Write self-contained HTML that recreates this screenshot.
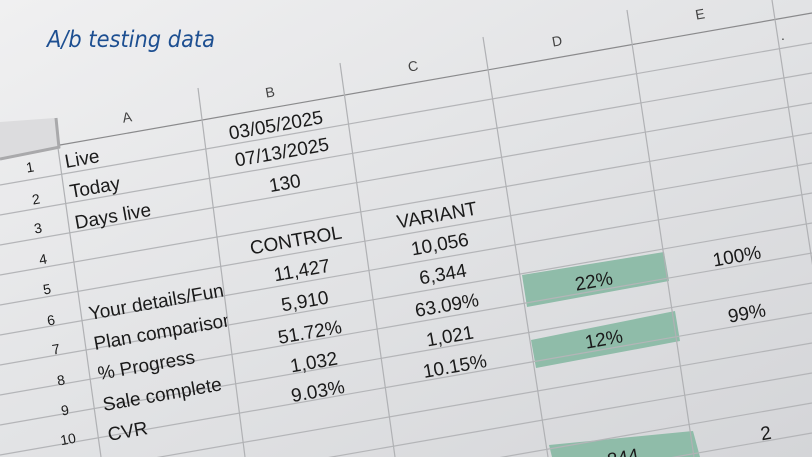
<!DOCTYPE html>
<html><head><meta charset="utf-8"><style>
html,body{margin:0;padding:0;}
body{width:812px;height:457px;overflow:hidden;}
svg{display:block;overflow:hidden;}
text{font-family:"Liberation Sans",sans-serif;fill:#1a1a1a;}
</style></head><body>
<svg width="812" height="457" viewBox="0 0 812 457" xmlns="http://www.w3.org/2000/svg">
<defs>
<linearGradient id="bg" x1="0" y1="0" x2="1" y2="1">
<stop offset="0" stop-color="#f0f0f1"/><stop offset="0.5" stop-color="#e2e3e5"/><stop offset="1" stop-color="#d4d5d8"/>
</linearGradient>
<clipPath id="ca"><polygon points="58,118 198,88 245,457 100,457"/></clipPath>
<clipPath id="frame"><rect width="812" height="457"/></clipPath>
</defs>
<g clip-path="url(#frame)">
<rect width="812" height="457" fill="url(#bg)"/>
<polygon points="0,122 55,118 58,148 0,160" fill="#dcdcde"/>
<line x1="0" y1="159" x2="60" y2="147" stroke="#a9a9ab" stroke-width="3"/>
<line x1="56" y1="118" x2="59" y2="148" stroke="#a9a9ab" stroke-width="3"/>
<polygon points="522,275 664,252 669,281 527,307" fill="#8fbca9"/>
<polygon points="531,340 675,311 680,341 536,368" fill="#8fbca9"/>
<polygon points="549,445 693,431 700,457 552,457" fill="#8fbca9"/>
<g stroke="#b4b5b8" stroke-width="1.2">
<line x1="60" y1="145" x2="812" y2="13" stroke="#8a8a8c"/>
<line x1="0" y1="185" x2="812" y2="43"/>
<line x1="0" y1="215" x2="812" y2="73"/>
<line x1="0" y1="245" x2="812" y2="103"/>
<line x1="0" y1="275" x2="812" y2="133"/>
<line x1="0" y1="305" x2="812" y2="163"/>
<line x1="0" y1="335" x2="812" y2="193"/>
<line x1="0" y1="365" x2="812" y2="223"/>
<line x1="0" y1="395" x2="812" y2="253"/>
<line x1="0" y1="425" x2="812" y2="283"/>
<line x1="0" y1="455" x2="812" y2="313"/>
<line x1="0" y1="485" x2="812" y2="343"/>
<line x1="0" y1="515" x2="812" y2="373"/>
<line x1="0" y1="545" x2="812" y2="403"/>
<line x1="0" y1="575" x2="812" y2="433"/>
</g>
<g stroke="#b0b1b4" stroke-width="1.2">
<line x1="58" y1="148" x2="101" y2="457"/>
<line x1="198" y1="88" x2="245" y2="457"/>
<line x1="340" y1="63" x2="395" y2="457"/>
<line x1="483" y1="37" x2="548" y2="457"/>
<line x1="627" y1="10" x2="694" y2="457"/>
<line x1="772" y1="0" x2="842" y2="457"/>
</g>
<text x="47" y="47" font-size="23" font-style="italic" style="font-family:'DejaVu Sans',sans-serif;fill:#1d4f91" textLength="168" lengthAdjust="spacingAndGlyphs">A/b testing data</text>
<g font-size="14" text-anchor="middle" dominant-baseline="central">
<text x="127" y="117" transform="rotate(-10 127 117)" style="fill:#444">A</text>
<text x="270" y="92" transform="rotate(-10 270 92)" style="fill:#444">B</text>
<text x="413" y="66" transform="rotate(-10 413 66)" style="fill:#444">C</text>
<text x="557" y="41" transform="rotate(-10 557 41)" style="fill:#444">D</text>
<text x="700" y="14" transform="rotate(-10 700 14)" style="fill:#444">E</text>
<text x="783" y="35" style="fill:#444">.</text>
</g>
<g font-size="14" text-anchor="middle" dominant-baseline="central">
<text x="30" y="167" transform="rotate(-10 30 167)">1</text>
<text x="36" y="199" transform="rotate(-10 36 199)">2</text>
<text x="38" y="228" transform="rotate(-10 38 228)">3</text>
<text x="43" y="259" transform="rotate(-10 43 259)">4</text>
<text x="47" y="289" transform="rotate(-10 47 289)">5</text>
<text x="51" y="320" transform="rotate(-10 51 320)">6</text>
<text x="56" y="349" transform="rotate(-10 56 349)">7</text>
<text x="61" y="380" transform="rotate(-10 61 380)">8</text>
<text x="65" y="410" transform="rotate(-10 65 410)">9</text>
<text x="68" y="439" transform="rotate(-10 68 439)">10</text>
</g>
<g font-size="19" clip-path="url(#ca)">
<text x="66" y="168" transform="rotate(-10 66 168)">Live</text>
<text x="71" y="198" transform="rotate(-10 71 198)">Today</text>
<text x="76" y="229" transform="rotate(-10 76 229)">Days live</text>
<text x="90" y="320" transform="rotate(-10 90 320)">Your details/Funnel</text>
<text x="95" y="350" transform="rotate(-10 95 350)">Plan comparison</text>
<text x="99" y="380" transform="rotate(-10 99 380)">% Progress</text>
<text x="104" y="411" transform="rotate(-10 104 411)">Sale complete</text>
<text x="109" y="441" transform="rotate(-10 109 441)">CVR</text>
</g>
<g font-size="19" text-anchor="middle" dominant-baseline="central">
<text x="276" y="126" transform="rotate(-10 276 126)">03/05/2025</text>
<text x="282" y="153" transform="rotate(-10 282 153)">07/13/2025</text>
<text x="285" y="184" transform="rotate(-10 285 184)">130</text>
<text x="296" y="241" transform="rotate(-10 296 241)">CONTROL</text>
<text x="302" y="271" transform="rotate(-10 302 271)">11,427</text>
<text x="305" y="302" transform="rotate(-10 305 302)">5,910</text>
<text x="310" y="333" transform="rotate(-10 310 333)">51.72%</text>
<text x="314" y="363" transform="rotate(-10 314 363)">1,032</text>
<text x="318" y="392" transform="rotate(-10 318 392)">9.03%</text>
<text x="437" y="216" transform="rotate(-10 437 216)">VARIANT</text>
<text x="440" y="245" transform="rotate(-10 440 245)">10,056</text>
<text x="443" y="275" transform="rotate(-10 443 275)">6,344</text>
<text x="447" y="306" transform="rotate(-10 447 306)">63.09%</text>
<text x="450" y="337" transform="rotate(-10 450 337)">1,021</text>
<text x="455" y="367" transform="rotate(-10 455 367)">10.15%</text>
<text x="594" y="282" transform="rotate(-10 594 282)">22%</text>
<text x="604" y="340" transform="rotate(-10 604 340)">12%</text>
<text x="622" y="452" dominant-baseline="auto" transform="rotate(-10 622 452)" dy="12">844</text>
<text x="737" y="257" transform="rotate(-10 737 257)">100%</text>
<text x="747" y="314" transform="rotate(-10 747 314)">99%</text>
<text x="766" y="434" transform="rotate(-10 766 434)">2</text>
</g>
</g>
</svg>
</body></html>
